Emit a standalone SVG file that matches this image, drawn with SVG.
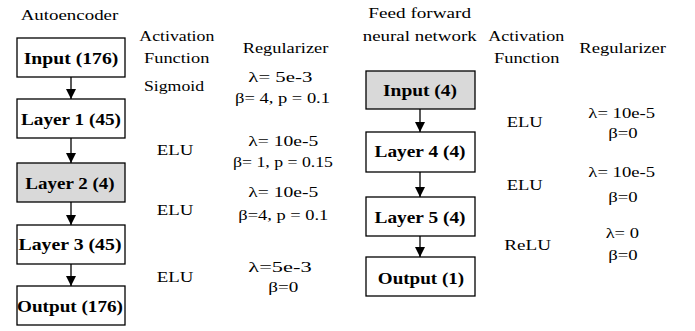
<svg xmlns="http://www.w3.org/2000/svg" width="695" height="331" viewBox="0 0 695 331" font-family="Liberation Serif, Times New Roman, serif">
<defs>
<style>
text{fill:#000;text-anchor:middle}
.t{font-size:15.5px}
.b{font-size:16.5px;font-weight:bold}
.box{fill:#fff;stroke:#000;stroke-width:1.3}
.g{fill:#d9d9d9}
.c{stroke:#000;stroke-width:1.3;fill:none;marker-end:url(#ah)}
</style>
<marker id="ah" markerUnits="userSpaceOnUse" markerWidth="10" markerHeight="10" refX="10" refY="5" orient="auto">
<path d="M0,0 L10,5 L0,10 Z" fill="#000"/>
</marker>
</defs>
<rect width="695" height="331" fill="#fff"/>

<g id="connectors">
<line class="c" x1="71" y1="77" x2="71" y2="99"/>
<line class="c" x1="71" y1="138" x2="71" y2="163"/>
<line class="c" x1="71" y1="202" x2="71" y2="225"/>
<line class="c" x1="71" y1="264" x2="71" y2="286"/>
<line class="c" x1="420" y1="109" x2="420" y2="132"/>
<line class="c" x1="420" y1="172" x2="420" y2="197"/>
<line class="c" x1="420" y1="236" x2="420" y2="257"/>
</g>

<g id="ae-input"><rect class="box" x="17" y="38" width="108" height="39"/><text class="b" x="71" y="63.5" textLength="94.6" lengthAdjust="spacingAndGlyphs">Input (176)</text></g>
<g id="ae-layer1"><rect class="box" x="17" y="99" width="108" height="39"/><text class="b" x="71" y="124.5" textLength="100" lengthAdjust="spacingAndGlyphs">Layer 1 (45)</text></g>
<g id="ae-layer2"><rect class="box g" x="17" y="163" width="108" height="39"/><text class="b" x="70" y="189" textLength="89.3" lengthAdjust="spacingAndGlyphs">Layer 2 (4)</text></g>
<g id="ae-layer3"><rect class="box" x="17" y="225" width="108" height="39"/><text class="b" x="70" y="250" textLength="103" lengthAdjust="spacingAndGlyphs">Layer 3 (45)</text></g>
<g id="ae-output"><rect class="box" x="17" y="286" width="108" height="39"/><text class="b" x="70" y="311.5" textLength="106" lengthAdjust="spacingAndGlyphs">Output (176)</text></g>

<g id="ff-input"><rect class="box g" x="366" y="71" width="109" height="38"/><text class="b" x="420" y="96.2" textLength="74" lengthAdjust="spacingAndGlyphs">Input (4)</text></g>
<g id="ff-layer4"><rect class="box" x="366" y="132" width="109" height="40"/><text class="b" x="420" y="156.5" textLength="91" lengthAdjust="spacingAndGlyphs">Layer 4 (4)</text></g>
<g id="ff-layer5"><rect class="box" x="366" y="197" width="109" height="39"/><text class="b" x="420" y="222.5" textLength="91" lengthAdjust="spacingAndGlyphs">Layer 5 (4)</text></g>
<g id="ff-output"><rect class="box" x="366" y="257" width="109" height="39"/><text class="b" x="421" y="283.5" textLength="86.3" lengthAdjust="spacingAndGlyphs">Output (1)</text></g>

<g id="labels">
<text class="t" x="69.5" y="20" textLength="97.6" lengthAdjust="spacingAndGlyphs">Autoencoder</text>
<text class="t" x="176.8" y="40.7" textLength="75" lengthAdjust="spacingAndGlyphs">Activation</text>
<text class="t" x="176.7" y="62.7" textLength="65.3" lengthAdjust="spacingAndGlyphs">Function</text>
<text class="t" x="285.5" y="53.3" textLength="85.6" lengthAdjust="spacingAndGlyphs">Regularizer</text>
<text class="t" x="174" y="90.5" textLength="60" lengthAdjust="spacingAndGlyphs">Sigmoid</text>
<text class="t" x="280.3" y="81.7" textLength="64" lengthAdjust="spacingAndGlyphs">λ= 5e-3</text>
<text class="t" x="282.5" y="103.3" textLength="95" lengthAdjust="spacingAndGlyphs">β= 4, p = 0.1</text>
<text class="t" x="175" y="155" textLength="36.6" lengthAdjust="spacingAndGlyphs">ELU</text>
<text class="t" x="283.3" y="145.7" textLength="70" lengthAdjust="spacingAndGlyphs">λ= 10e-5</text>
<text class="t" x="283" y="166.7" textLength="100" lengthAdjust="spacingAndGlyphs">β= 1, p = 0.15</text>
<text class="t" x="175" y="215" textLength="36.6" lengthAdjust="spacingAndGlyphs">ELU</text>
<text class="t" x="283.3" y="196.7" textLength="70" lengthAdjust="spacingAndGlyphs">λ= 10e-5</text>
<text class="t" x="283.3" y="220" textLength="90" lengthAdjust="spacingAndGlyphs">β=4, p = 0.1</text>
<text class="t" x="175" y="281.7" textLength="36.6" lengthAdjust="spacingAndGlyphs">ELU</text>
<text class="t" x="280" y="271.7" textLength="63.3" lengthAdjust="spacingAndGlyphs">λ=5e-3</text>
<text class="t" x="283.3" y="291.7" textLength="30" lengthAdjust="spacingAndGlyphs">β=0</text>

<text class="t" x="419.7" y="18.3" textLength="102.7" lengthAdjust="spacingAndGlyphs">Feed forward</text>
<text class="t" x="419.7" y="40.7" textLength="114" lengthAdjust="spacingAndGlyphs">neural network</text>
<text class="t" x="526.3" y="40.7" textLength="76" lengthAdjust="spacingAndGlyphs">Activation</text>
<text class="t" x="526.7" y="62.7" textLength="65.3" lengthAdjust="spacingAndGlyphs">Function</text>
<text class="t" x="622.7" y="52.7" textLength="86.7" lengthAdjust="spacingAndGlyphs">Regularizer</text>
<text class="t" x="524.7" y="126.7" textLength="36" lengthAdjust="spacingAndGlyphs">ELU</text>
<text class="t" x="621.7" y="118.3" textLength="66.7" lengthAdjust="spacingAndGlyphs">λ= 10e-5</text>
<text class="t" x="623" y="138.3" textLength="29.4" lengthAdjust="spacingAndGlyphs">β=0</text>
<text class="t" x="524.7" y="190" textLength="36" lengthAdjust="spacingAndGlyphs">ELU</text>
<text class="t" x="621.7" y="177.3" textLength="66.7" lengthAdjust="spacingAndGlyphs">λ= 10e-5</text>
<text class="t" x="623" y="201.7" textLength="29.4" lengthAdjust="spacingAndGlyphs">β=0</text>
<text class="t" x="527.7" y="250" textLength="46.7" lengthAdjust="spacingAndGlyphs">ReLU</text>
<text class="t" x="622.3" y="238.3" textLength="33.3" lengthAdjust="spacingAndGlyphs">λ= 0</text>
<text class="t" x="623" y="260" textLength="29.4" lengthAdjust="spacingAndGlyphs">β=0</text>
</g>
</svg>
